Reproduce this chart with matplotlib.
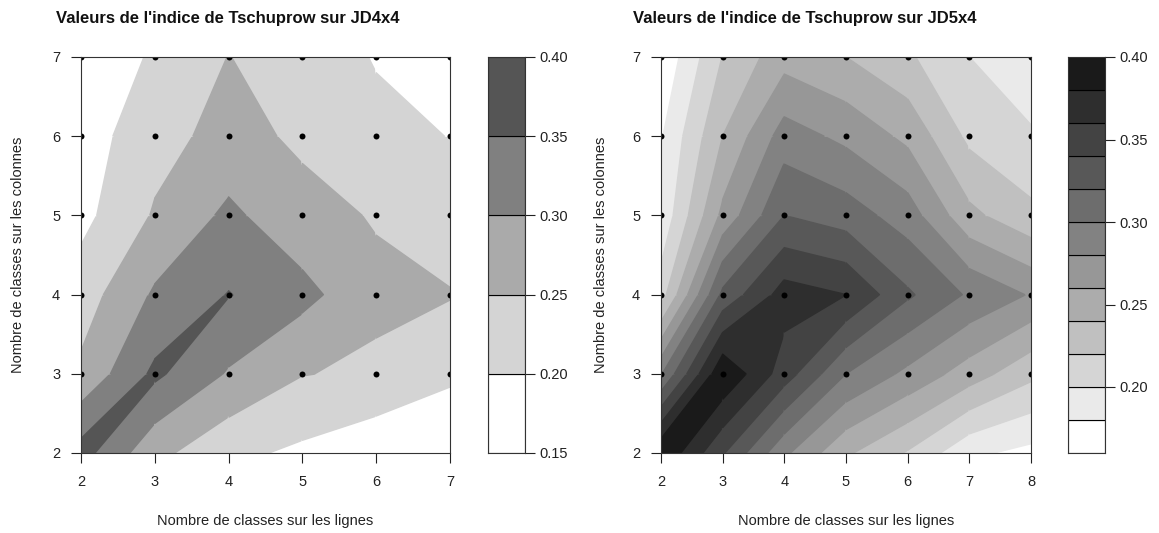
import numpy as np
import matplotlib
matplotlib.use('Agg')
import matplotlib.pyplot as plt
from matplotlib.collections import PolyCollection

plt.rcParams['font.family'] = ['Liberation Sans', 'DejaVu Sans']

# ---------------- data ----------------
title_left = "Valeurs de l'indice de Tschuprow sur JD4x4"
title_right = "Valeurs de l'indice de Tschuprow sur JD5x4"
xlabel = "Nombre de classes sur les lignes"
ylabel = "Nombre de classes sur les colonnes"

x_left = [2, 3, 4, 5, 6, 7]
y_left = [2, 3, 4, 5, 6, 7]
# rows: y = 2..7, columns: x = 2..7
z_left = [
    [0.370, 0.264, 0.212, 0.190, 0.165, 0.170],
    [0.260, 0.360, 0.295, 0.252, 0.240, 0.206],
    [0.225, 0.307, 0.352, 0.315, 0.262, 0.253],
    [0.185, 0.255, 0.310, 0.267, 0.246, 0.220],
    [0.175, 0.232, 0.267, 0.241, 0.212, 0.199],
    [0.160, 0.207, 0.251, 0.225, 0.197, 0.180],
]
levels_left = [0.15, 0.20, 0.25, 0.30, 0.35, 0.40]
key_ticks_left = [0.15, 0.20, 0.25, 0.30, 0.35, 0.40]

x_right = [2, 3, 4, 5, 6, 7, 8]
y_right = [2, 3, 4, 5, 6, 7]
# rows: y = 2..7, columns: x = 2..8
z_right = [
    [0.398, 0.342, 0.284, 0.243, 0.218, 0.184, 0.174],
    [0.298, 0.398, 0.350, 0.300, 0.275, 0.250, 0.225],
    [0.210, 0.325, 0.369, 0.360, 0.323, 0.297, 0.278],
    [0.184, 0.265, 0.320, 0.310, 0.290, 0.245, 0.225],
    [0.178, 0.240, 0.289, 0.275, 0.255, 0.215, 0.202],
    [0.163, 0.221, 0.252, 0.240, 0.223, 0.200, 0.188],
]
levels_right = [0.16, 0.18, 0.20, 0.22, 0.24, 0.26, 0.28, 0.30,
                0.32, 0.34, 0.36, 0.38, 0.40]
key_ticks_right = [0.20, 0.25, 0.30, 0.35, 0.40]

# observed points (rows y = 3..7)
obs_y = [3, 4, 5, 6, 7]

# ---------------- helpers (R filled.contour algorithm) ----------------
def cut_points(low, high, p1, z1, p2, z2, pts):
    (x1, y1), (x2, y2) = p1, p2
    if z1 > z2:
        if z2 > high or z1 < low:
            return
        if z1 < high:
            pts.append((x1, y1))
        else:
            c = (z1 - high) / (z1 - z2)
            pts.append((x1 + c * (x2 - x1), y1 + c * (y2 - y1)))
        if z2 <= low:
            c = (z2 - low) / (z2 - z1)
            pts.append((x2 - c * (x2 - x1), y2 - c * (y2 - y1)))
    elif z1 < z2:
        if z2 < low or z1 > high:
            return
        if z1 > low:
            pts.append((x1, y1))
        else:
            c = (z1 - low) / (z1 - z2)
            pts.append((x1 + c * (x2 - x1), y1 + c * (y2 - y1)))
        if z2 >= high:
            c = (z2 - high) / (z2 - z1)
            pts.append((x2 - c * (x2 - x1), y2 - c * (y2 - y1)))
    else:
        if low <= z1 <= high:
            pts.append((x1, y1))


def filled_contour(ax, xs, ys, z, levels, colors):
    z = np.asarray(z)
    polys, cols = [], []
    for j in range(len(ys) - 1):
        for i in range(len(xs) - 1):
            x1, x2 = xs[i], xs[i + 1]
            y1, y2 = ys[j], ys[j + 1]
            z11, z21 = z[j, i], z[j, i + 1]
            z12, z22 = z[j + 1, i], z[j + 1, i + 1]
            corners = [((x1, y1), z11), ((x2, y1), z21),
                       ((x2, y2), z22), ((x1, y2), z12)]
            for k in range(len(levels) - 1):
                lo, hi = levels[k], levels[k + 1]
                pts = []
                for e in range(4):
                    pa, za = corners[e]
                    pb, zb = corners[(e + 1) % 4]
                    cut_points(lo, hi, pa, za, pb, zb, pts)
                if len(pts) > 2:
                    polys.append(pts)
                    cols.append(colors[k])
    pc = PolyCollection(polys, facecolors=cols, edgecolors=cols,
                        linewidths=1.1, antialiased=True,
                        joinstyle='round')
    ax.add_collection(pc)


def draw_key(ax, levels, colors, ticks):
    for k in range(len(levels) - 1):
        ax.bar(0.5, levels[k + 1] - levels[k], bottom=levels[k], width=1.0,
               color=colors[k], edgecolor='black', linewidth=0.8)
    ax.set_xlim(0, 1)
    ax.set_ylim(levels[0], levels[-1])
    ax.set_xticks([])
    ax.yaxis.tick_right()
    ax.set_yticks(ticks)
    ax.set_yticklabels([f"{t:.2f}" for t in ticks])
    ax.tick_params(axis='y', length=7, width=0.8, pad=3, labelsize=10.5,
                   colors='#222222')
    for s in ax.spines.values():
        s.set_linewidth(0.8)
        s.set_color('#333333')


def draw_panel(fig, rect, key_rect, xs, ys, z, levels, key_ticks, colors):
    ax = fig.add_axes(rect)
    filled_contour(ax, xs, ys, z, levels, colors)
    gx, gy = np.meshgrid(xs, obs_y)
    ax.plot(gx.ravel(), gy.ravel(), 'o', color='black', markersize=4.3,
            markeredgewidth=0)
    ax.set_xlim(xs[0], xs[-1])
    ax.set_ylim(ys[0], ys[-1])
    ax.set_xticks(xs)
    ax.set_yticks(ys)
    ax.tick_params(axis='x', length=7, width=0.8, pad=9, labelsize=10.5,
                   colors='#222222')
    ax.tick_params(axis='y', length=7, width=0.8, pad=8, labelsize=10.5,
                   colors='#222222')
    for s in ax.spines.values():
        s.set_linewidth(0.8)
        s.set_color('#333333')
    kax = fig.add_axes(key_rect)
    draw_key(kax, levels, colors, key_ticks)
    return ax


W, H = 1159, 533
fig = plt.figure(figsize=(W / 100, H / 100), dpi=100)


def r(x0, x1, y0, y1):
    return [x0 / W, 1 - y1 / H, (x1 - x0) / W, (y1 - y0) / H]


colors_left = [str(v) for v in np.linspace(1.0, 1 / 3, len(levels_left) - 1)]
colors_right = [str(v) for v in np.linspace(1.0, 0.1, len(levels_right) - 1)]

draw_panel(fig, r(81, 450, 57, 453), r(488, 525, 57, 453),
           x_left, y_left, z_left, levels_left, key_ticks_left, colors_left)
draw_panel(fig, r(661, 1031, 57, 453), r(1068, 1105, 57, 453),
           x_right, y_right, z_right, levels_right, key_ticks_right, colors_right)

# titles and labels
fig.text(228 / W, 1 - 19 / H, title_left, ha='center', va='center',
         fontsize=12, fontweight='bold', color='#111111')
fig.text(805 / W, 1 - 19 / H, title_right, ha='center', va='center',
         fontsize=12, fontweight='bold', color='#111111')
fig.text(265 / W, 1 - 521 / H, xlabel, ha='center', va='center',
         fontsize=10.5, color='#222222')
fig.text(846 / W, 1 - 521 / H, xlabel, ha='center', va='center',
         fontsize=10.5, color='#222222')
fig.text(18 / W, 1 - 255 / H, ylabel, ha='center', va='center',
         rotation=90, fontsize=10.5, color='#222222')
fig.text(601 / W, 1 - 255 / H, ylabel, ha='center', va='center',
         rotation=90, fontsize=10.5, color='#222222')

fig.savefig('out.png', dpi=100)
